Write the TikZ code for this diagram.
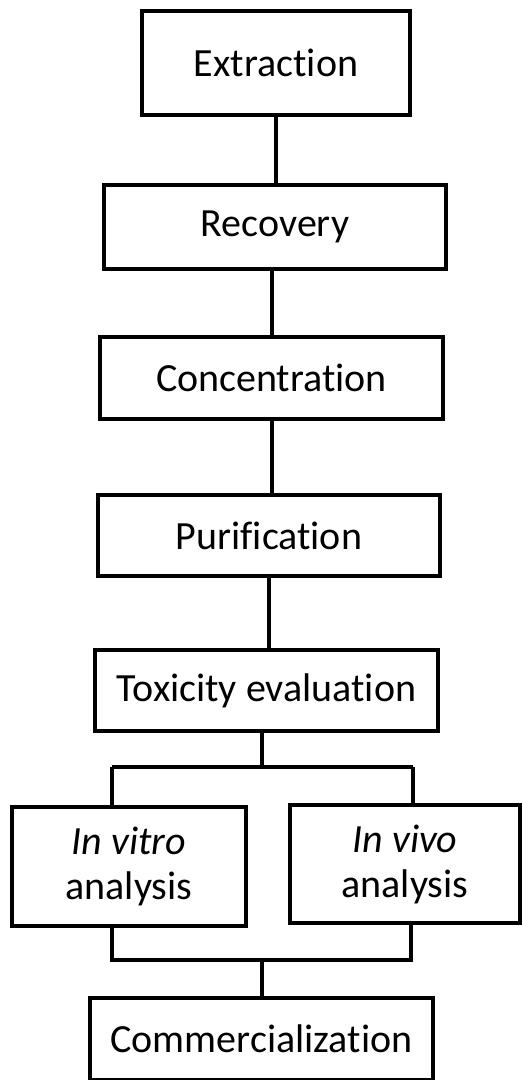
\documentclass[tikz,border=0pt]{standalone}
\usepackage{fontspec}
\setmainfont{Carlito}[Ligatures=NoCommon]
\usetikzlibrary{positioning}

\begin{document}
\begin{tikzpicture}[x=0.5pt, y=-0.5pt, line width=2pt,
  box/.style={draw, line width=2pt, align=center, inner sep=0pt, font=\fontsize{20}{22.5}\selectfont}]
\useasboundingbox (0,0) rectangle (521,1080);
\node[box, minimum width=134pt, minimum height=52pt] (extr) at (276,63) {Extraction};
\node[box, minimum width=171pt, minimum height=42pt] (recov) at (275,227) {Recovery};
\node[box, minimum width=171.5pt, minimum height=41pt] (conc) at (271.5,378) {Concentration};
\node[box, minimum width=171pt, minimum height=40.5pt] (purif) at (269,535.5) {Purification};
\node[box, minimum width=171.5pt, minimum height=40.5pt] (tox) at (266.5,690.5) {Toxicity evaluation};
\node[box, minimum width=117pt, minimum height=59.5pt] (vitro) at (129,866.5) {\textit{In vitro}\\analysis};
\node[box, minimum width=115pt, minimum height=59pt] (vivo) at (405,864) {\textit{In vivo}\\analysis};
\node[box, minimum width=171.5pt, minimum height=41pt] (comm) at (261.5,1039) {Commercialization};
% branch points
\coordinate (split) at (262,767);
\coordinate (splitL) at (112,767);
\coordinate (splitR) at (413,767);
\coordinate (join) at (262,960);
\coordinate (joinL) at (112,960);
\coordinate (joinR) at (411,960);
\draw (extr.south) -- (extr.south |- recov.north);
\draw (recov.south -| conc) -- (conc.north);
\draw (conc.south) -- (conc.south |- purif.north);
\draw (purif.south) -- (purif.south |- tox.north);
\draw (split |- tox.south) -- (split);
\draw (splitL) -- (splitR);
\draw (splitL) -- (splitL |- vitro.north);
\draw (splitR) -- (splitR |- vivo.north);
\draw (joinL |- vitro.south) -- (joinL) -- (joinR) -- (joinR |- vivo.south);
\draw (join) -- (join |- comm.north);
\end{tikzpicture}
\end{document}
